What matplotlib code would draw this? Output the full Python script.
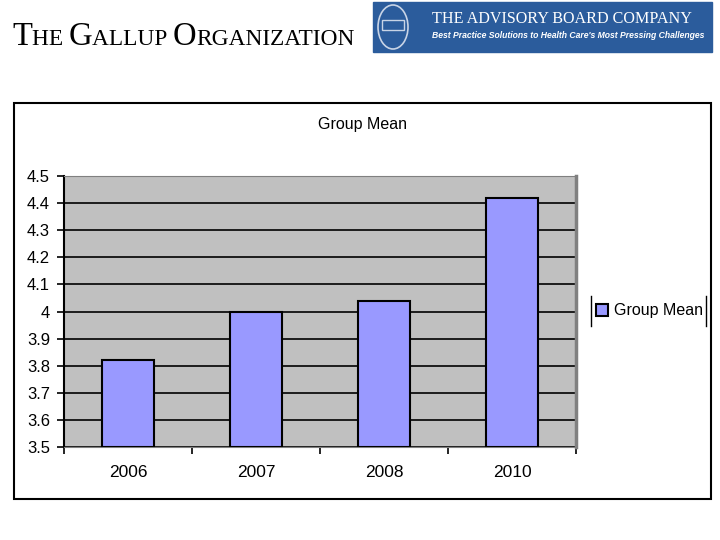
import matplotlib
matplotlib.use('Agg')
import matplotlib.pyplot as plt
from matplotlib.patches import Rectangle, Ellipse
from matplotlib.lines import Line2D

years = ['2006', '2007', '2008', '2010']
group_mean = [3.82, 4.00, 4.04, 4.42]
yticks = [3.5, 3.6, 3.7, 3.8, 3.9, 4.0, 4.1, 4.2, 4.3, 4.4, 4.5]
ytick_labels = ['3.5', '3.6', '3.7', '3.8', '3.9', '4', '4.1', '4.2', '4.3', '4.4', '4.5']

plt.rcParams['font.family'] = ['Liberation Sans', 'DejaVu Sans']

fig = plt.figure(figsize=(7.2, 5.4), dpi=100)
W, H = 720.0, 540.0

def fx(px):
    return px / W

def fy(py):
    return 1 - py / H

# outer chart frame
fig.add_artist(Rectangle((fx(14), fy(499)), fx(711) - fx(14), fy(103) - fy(499),
                         transform=fig.transFigure, fill=False, ec='black', lw=1.5))

ax = fig.add_axes([fx(64), fy(447), fx(576) - fx(64), fy(176) - fy(447)])
ax.set_facecolor('#c0c0c0')
x = list(range(len(years)))
ax.bar(x, [v - 3.5 for v in group_mean], bottom=3.5, width=0.41,
       color='#9999ff', edgecolor='black', linewidth=1.5, zorder=3,
       label='Group Mean')
ax.set_ylim(3.5, 4.5)
ax.set_xlim(-0.5, len(years) - 0.5)
ax.set_yticks(yticks)
ax.set_yticklabels(ytick_labels, fontsize=12)
ax.yaxis.grid(True, color='black', lw=1.2, zorder=1)
ax.set_axisbelow(True)
ax.set_xticks(x)
ax.set_xticklabels(years, fontsize=12.5)
ax.tick_params(axis='x', length=0, pad=13)
ax.set_xticks([i + 0.5 for i in range(-1, len(years))], minor=True)
ax.tick_params(axis='x', which='minor', length=5, width=1.2, direction='out')
ax.tick_params(axis='y', length=5, width=1.2, direction='out', pad=5)
ax.spines['left'].set_linewidth(1.5)
ax.spines['bottom'].set_color('#808080')
ax.spines['top'].set_color('#808080')
ax.spines['right'].set_color('#808080')
ax.spines['right'].set_linewidth(2.5)

fig.text(fx(363), fy(125), 'Group Mean', ha='center', va='center', fontsize=11.5)

# legend
leg = ax.legend(loc='center left', bbox_to_anchor=(fx(596), fy(311)),
                bbox_transform=fig.transFigure, frameon=False, fontsize=11.5,
                handlelength=0.75, handleheight=0.75, handletextpad=0.4,
                borderpad=0.0, borderaxespad=0.0)
fig.add_artist(Line2D([fx(591), fx(591)], [fy(296), fy(326)], color='black', lw=1))
fig.add_artist(Line2D([fx(706), fx(706)], [fy(296), fy(326)], color='black', lw=1))

# header: Gallup small caps
renderer = fig.canvas.get_renderer()
pieces = [('T', 23.5), ('HE ', 16.8), ('G', 23.5), ('ALLUP ', 16.8), ('O', 23.5), ('RGANIZATION', 16.8)]
xpos = fx(12)
for txt, sz in pieces:
    t = fig.text(xpos, fy(45), txt, fontsize=sz, family='Liberation Serif',
                 ha='left', va='baseline')
    bb = t.get_window_extent(renderer=renderer)
    xpos += bb.width / W

# header: advisory board box
fig.add_artist(Rectangle((fx(373), fy(52)), fx(712) - fx(373), fy(2) - fy(52),
                         transform=fig.transFigure, color='#2b5c9c'))
fig.add_artist(Ellipse((fx(393), fy(27)), 30 / W, 44 / H, transform=fig.transFigure,
                       fill=False, ec='#c8d4e6', lw=1.2))
fig.add_artist(Rectangle((fx(382), fy(30)), 22 / W, 10 / H, transform=fig.transFigure,
                         fill=False, ec='#c8d4e6', lw=1))
fig.text(fx(432), fy(23), 'THE ADVISORY BOARD COMPANY', color='white', fontsize=11.6,
         family='Liberation Serif', ha='left', va='baseline')
fig.text(fx(432), fy(38), "Best Practice Solutions to Health Care's Most Pressing Challenges",
         color='white', fontsize=6.2, style='italic', weight='bold', ha='left', va='baseline')

fig.savefig('out.png', dpi=100)
